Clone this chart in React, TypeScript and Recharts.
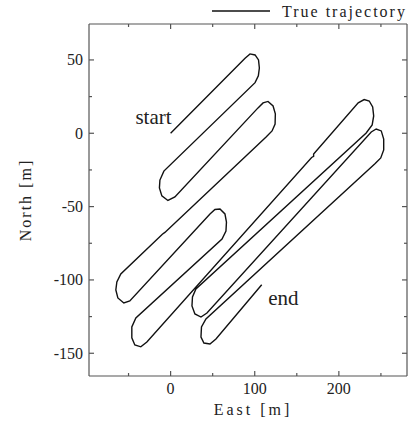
import React from 'react';
import { LineChart, Line, XAxis, YAxis, Legend, ReferenceDot } from 'recharts';

// axis ranges and ticks
const X_DOMAIN = [-97, 281];
const Y_DOMAIN = [-165.5, 74.5];
const X_TICKS = [-50, 0, 50, 100, 150, 200, 250];
const X_LABELS = [0, 100, 200];
const Y_TICKS = [-150, -125, -100, -75, -50, -25, 0, 25, 50];
const Y_LABELS = [-150, -100, -50, 0, 50];

// trajectory, [east, north] in metres, one array per turn
const START = [[0, 0]];
const TURN_A = [[88.5, 51.1], [94.4, 54.1], [100.4, 53.4], [104.5, 50.0], [105.5, 44.5], [104.3, 39.1], [100.4, 34.5]];
const TURN_B = [[-8.0, -25.8], [-12.7, -31.9], [-13.3, -37.3], [-10.4, -42.7], [-3.2, -45.8], [5.1, -43.4]];
const TURN_C = [[103.9, 17.3], [109.9, 20.7], [115.8, 21.7], [121.8, 18.6], [124.5, 13.2], [124.2, 6.3], [120.6, 1.6], [113.5, -2.5]];
const KINK_1 = [[-6.8, -67.6], [-9.8, -68.8]];
const TURN_D = [[-59.2, -95.9], [-63.9, -101.4], [-65.1, -106.8], [-62.7, -112.3], [-55.6, -115.7], [-48.5, -114.3]];
const TURN_E = [[46.8, -55.0], [52.7, -52.0], [58.7, -51.6], [64.6, -55.0], [66.4, -60.5], [65.8, -66.6], [61.1, -72.1]];
const TURN_F = [[-41.3, -125.9], [-46.1, -132.0], [-46.1, -139.5], [-42.5, -144.3], [-35.4, -145.6], [-28.2, -142.3]];
const KINK_2 = [[167.6, -16.5], [170.0, -15.8], [170.0, -14.1]];
const TURN_G = [[223.0, 20.7], [230.1, 23.0], [236.1, 22.0], [240.2, 17.9], [241.4, 11.8], [239.6, 5.7], [232.5, 0.2]];
const TURN_I = [[30.1, -106.2], [26.0, -111.6], [25.4, -117.7], [28.9, -123.2], [36.1, -125.3], [43.2, -122.6]];
const TURN_H = [[238.5, 0.9], [244.4, 2.9], [250.4, 1.6], [253.3, -3.9], [253.3, -11.4], [249.8, -16.8], [243.2, -20.6]];
const TURN_J = [[42.0, -126.6], [36.7, -132.1], [36.1, -138.9], [39.6, -143.0], [46.8, -143.7], [53.9, -140.3]];
const END = [[108.3, -103.3]];

const data = [
  ...START, ...TURN_A, ...TURN_B, ...TURN_C, ...KINK_1, ...TURN_D, ...TURN_E,
  ...TURN_F, ...KINK_2, ...TURN_G, ...TURN_I, ...TURN_H, ...TURN_J, ...END,
].map(([east, north]) => ({ east, north }));

const FONT = 'Liberation Serif';
const FRAME = '#555';
const INK = '#222';
const axisLine = { stroke: FRAME, strokeWidth: 1.2 };
const serif = (size: number, spacing = 0) => ({ fontFamily: FONT, fontSize: size, letterSpacing: spacing });

const BottomTick = ({ x, y, payload }: any) => {
  const major = X_LABELS.includes(payload.value);
  return (
    <g>
      <line x1={x} x2={x} y1={y} y2={y - (major ? 5 : 3)} stroke={FRAME} strokeWidth={1.2} />
      {major && (
        <text x={x} y={y + 17.5} textAnchor="middle" fill={INK} style={serif(16)}>
          {payload.value}
        </text>
      )}
    </g>
  );
};

const TopTick = ({ x, y, payload }: any) => {
  const major = X_LABELS.includes(payload.value);
  return <line x1={x} x2={x} y1={y} y2={y + (major ? 5 : 3)} stroke={FRAME} strokeWidth={1.2} />;
};

const LeftTick = ({ x, y, payload }: any) => {
  const major = Y_LABELS.includes(payload.value);
  return (
    <g>
      <line x1={x} x2={x + (major ? 5 : 3)} y1={y} y2={y} stroke={FRAME} strokeWidth={1.2} />
      {major && (
        <text x={x - 6} y={y + 5.5} textAnchor="end" fill={INK} style={serif(16)}>
          {payload.value}
        </text>
      )}
    </g>
  );
};

const RightTick = ({ x, y, payload }: any) => {
  const major = Y_LABELS.includes(payload.value);
  return <line x1={x} x2={x - (major ? 5 : 3)} y1={y} y2={y} stroke={FRAME} strokeWidth={1.2} />;
};

const EastLabel = ({ viewBox }: any) => (
  <text x={viewBox.x + viewBox.width / 2 + 5} y={viewBox.y + 39} textAnchor="middle"
    fill={INK} style={serif(16, 3)}>
    East [m]
  </text>
);

const NorthLabel = ({ viewBox }: any) => {
  const cy = viewBox.y + viewBox.height / 2;
  return (
    <text x={31} y={cy} transform={`rotate(-90, 31, ${cy})`} textAnchor="middle"
      fill={INK} style={serif(16, 2)}>
      North [m]
    </text>
  );
};

const StartLabel = ({ viewBox }: any) => (
  <text x={viewBox.x + viewBox.width / 2 + 1} y={viewBox.y + viewBox.height / 2 - 9}
    textAnchor="end" fill={INK} style={serif(21)}>
    start
  </text>
);

const EndLabel = ({ viewBox }: any) => (
  <text x={viewBox.x + viewBox.width / 2 + 6.5} y={viewBox.y + viewBox.height / 2 + 20.5}
    fill={INK} style={serif(21)}>
    end
  </text>
);

const LegendBox = ({ payload }: any) => {
  const item = (payload || []).find((p: any) => p.type !== 'none');
  return (
    <svg width={408} height={22} style={{ display: 'block' }}>
      <line x1={212} x2={270} y1={11} y2={11} stroke="#111" strokeWidth={1.3} />
      <text x={282} y={16.7} fill={INK} style={serif(16, 2)}>
        {item ? item.value : 'True trajectory'}
      </text>
    </svg>
  );
};

export default function App() {
  return (
    <div style={{ position: 'absolute', left: 0, top: 0, background: '#fff' }}>
      <LineChart width={408} height={426} data={data} margin={{ top: 1, right: 0, bottom: 0, left: 0 }}>
        <Legend verticalAlign="top" align="right" content={LegendBox}
          wrapperStyle={{ left: 0, top: 0, width: 408 }} />
        <XAxis dataKey="east" type="number" domain={X_DOMAIN} ticks={X_TICKS} interval={0}
          allowDataOverflow height={50} tickSize={0} tickMargin={0} tickLine={false}
          axisLine={axisLine} tick={BottomTick} label={EastLabel} />
        <XAxis xAxisId="top" dataKey="east" orientation="top" type="number" domain={X_DOMAIN} ticks={X_TICKS}
          interval={0} allowDataOverflow height={1} tickSize={0} tickMargin={0} tickLine={false}
          axisLine={axisLine} tick={TopTick} />
        <YAxis type="number" domain={Y_DOMAIN} ticks={Y_TICKS} interval={0} allowDataOverflow
          width={89} tickSize={0} tickMargin={0} tickLine={false} axisLine={axisLine}
          tick={LeftTick} label={NorthLabel} />
        <YAxis yAxisId="right" orientation="right" type="number" domain={Y_DOMAIN} ticks={Y_TICKS}
          interval={0} allowDataOverflow width={1} tickSize={0} tickMargin={0} tickLine={false}
          axisLine={axisLine} tick={RightTick} />
        <Line dataKey="north" name="True trajectory" type="linear" stroke="#111" strokeWidth={1.4}
          dot={false} activeDot={false} isAnimationActive={false} />
        <Line xAxisId="top" yAxisId="right" dataKey="north" name="frame" legendType="none"
          stroke="none" dot={false} activeDot={false} isAnimationActive={false} />
        <ReferenceDot x={START[0][0]} y={START[0][1]} r={0} fill="none" stroke="none" label={StartLabel} />
        <ReferenceDot x={END[0][0]} y={END[0][1]} r={0} fill="none" stroke="none" label={EndLabel} />
      </LineChart>
    </div>
  );
}
